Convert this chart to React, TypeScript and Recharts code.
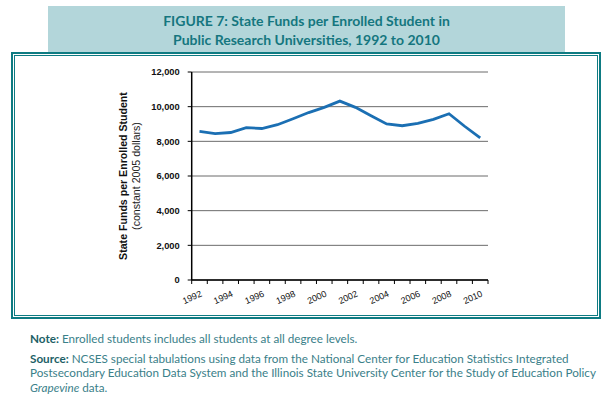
import React from 'react';
import { LineChart, Line, XAxis, YAxis, CartesianGrid } from 'recharts';

const years = [1992, 1993, 1994, 1995, 1996, 1997, 1998, 1999, 2000, 2001, 2002, 2003, 2004, 2005, 2006, 2007, 2008, 2009, 2010];
const stateFunds = [8570, 8450, 8510, 8790, 8740, 8960, 9300, 9660, 9960, 10320, 9960, 9470, 9000, 8900, 9040, 9270, 9590, 8870, 8200];
const yTicks = [0, 2000, 4000, 6000, 8000, 10000, 12000];
const xBoundaryTicks = [1991.5, 1992.5, 1993.5, 1994.5, 1995.5, 1996.5, 1997.5, 1998.5, 1999.5, 2000.5, 2001.5, 2002.5, 2003.5, 2004.5, 2005.5, 2006.5, 2007.5, 2008.5, 2009.5, 2010.5];
const labeledYears = [1992, 1994, 1996, 1998, 2000, 2002, 2004, 2006, 2008, 2010];

const data = years.map((y, i) => ({ year: y, value: stateFunds[i] }));

const W = 610;
const H = 397;
const PLOT_LEFT = 191.7;
const PLOT_RIGHT = 488;
const PLOT_TOP = 72;
const PLOT_BOTTOM = 280;
const CHART_H = 330;
const YAXIS_W = 50;
const XAXIS_H = 30;
const BAND = (PLOT_RIGHT - PLOT_LEFT) / years.length;

const teal = '#0e7b82';

const XTick = (props: any) => {
  const { x, y, payload } = props;
  const yr = payload.value + 0.5;
  if (!labeledYears.includes(yr)) return null;
  const cx = x + BAND / 2 + 3;
  const ty = y + 10;
  return (
    <text
      x={cx}
      y={ty}
      textAnchor="end"
      transform={`rotate(-24, ${cx}, ${ty})`}
      fontFamily="Liberation Sans, Arial, sans-serif"
      fontSize={9}
      fill="#111"
    >
      {yr}
    </text>
  );
};

const fmt = (v: number) => v.toLocaleString('en-US');

export default function App() {
  return (
    <div style={{ position: 'absolute', left: 0, top: 0, width: W, height: H, background: '#fff', overflow: 'hidden' }}>
      <div
        style={{
          position: 'absolute',
          left: 48,
          top: 6,
          width: 517,
          height: 46,
          background: '#b3d6da',
          color: '#15767f',
          fontFamily: 'Lato, "Open Sans", sans-serif',
          fontWeight: 700,
          fontSize: 14,
          lineHeight: '19px',
          textAlign: 'center',
          paddingTop: 5,
          boxSizing: 'border-box',
        }}
      >
        <div>FIGURE 7: State Funds per Enrolled Student in</div>
        <div>Public Research Universities, 1992 to 2010</div>
      </div>
      <svg style={{ position: 'absolute', left: 0, top: 0 }} width={W} height={H}>
        <rect x={12} y={53} width={588} height={265} fill="none" stroke={teal} strokeWidth={2} />
        <rect x={14.5} y={55.5} width={583} height={260} fill="none" stroke={teal} strokeWidth={1} />
        <text
          x={124}
          y={176}
          transform="rotate(-90, 124, 176)"
          textAnchor="middle"
          dominantBaseline="middle"
          fontFamily="Liberation Sans, Arial, sans-serif"
          fontWeight={700}
          fontSize={10.6}
          fill="#111"
        >
          State Funds per Enrolled Student
        </text>
        <text
          x={137}
          y={176}
          transform="rotate(-90, 137, 176)"
          textAnchor="middle"
          dominantBaseline="middle"
          fontFamily="Liberation Sans, Arial, sans-serif"
          fontSize={10.6}
          fill="#222"
        >
          (constant 2005 dollars)
        </text>
      </svg>
      <div style={{ position: 'absolute', left: 0, top: 0 }}>
        <LineChart
          width={W}
          height={CHART_H}
          data={data}
          margin={{ top: PLOT_TOP, right: W - PLOT_RIGHT, bottom: CHART_H - PLOT_BOTTOM - XAXIS_H, left: PLOT_LEFT - YAXIS_W }}
        >
          <CartesianGrid vertical={false} stroke="#6b6b6b" strokeWidth={1} />
          <XAxis
            dataKey="year"
            type="number"
            domain={[1991.5, 2010.5]}
            ticks={xBoundaryTicks}
            interval={0}
            height={XAXIS_H}
            axisLine={{ stroke: '#000', strokeWidth: 1.5 }}
            tickLine={{ stroke: '#000', strokeWidth: 1 }}
            tickSize={4}
            tick={<XTick />}
            allowDecimals
          />
          <YAxis
            domain={[0, 12000]}
            ticks={yTicks}
            interval={0}
            width={YAXIS_W}
            axisLine={{ stroke: '#000', strokeWidth: 1.5 }}
            tickLine={{ stroke: '#000', strokeWidth: 1 }}
            tickSize={4}
            tickMargin={8}
            tickFormatter={fmt}
            tick={{ fontFamily: 'Liberation Sans, Arial, sans-serif', fontSize: 9.3, fontWeight: 700, fill: '#111' }}
          />
          <Line
            type="linear"
            dataKey="value"
            stroke="#1b6fb3"
            strokeWidth={2.8}
            dot={false}
            isAnimationActive={false}
          />
        </LineChart>
      </div>
      <div
        style={{
          position: 'absolute',
          left: 30,
          top: 331,
          width: 578,
          fontFamily: 'Lato, "Open Sans", sans-serif',
          fontSize: 11.7,
          lineHeight: '14.5px',
          color: '#3a8089',
        }}
      >
        <div style={{ marginBottom: 5 }}>
          <span style={{ fontWeight: 700, color: '#1d5f66' }}>Note:</span> Enrolled students includes all students at all degree levels.
        </div>
        <div>
          <span style={{ fontWeight: 700, color: '#1d5f66' }}>Source:</span> NCSES special tabulations using data from the National Center for Education Statistics Integrated Postsecondary Education Data System and the Illinois State University Center for the Study of Education Policy <i>Grapevine</i> data.
        </div>
      </div>
    </div>
  );
}
